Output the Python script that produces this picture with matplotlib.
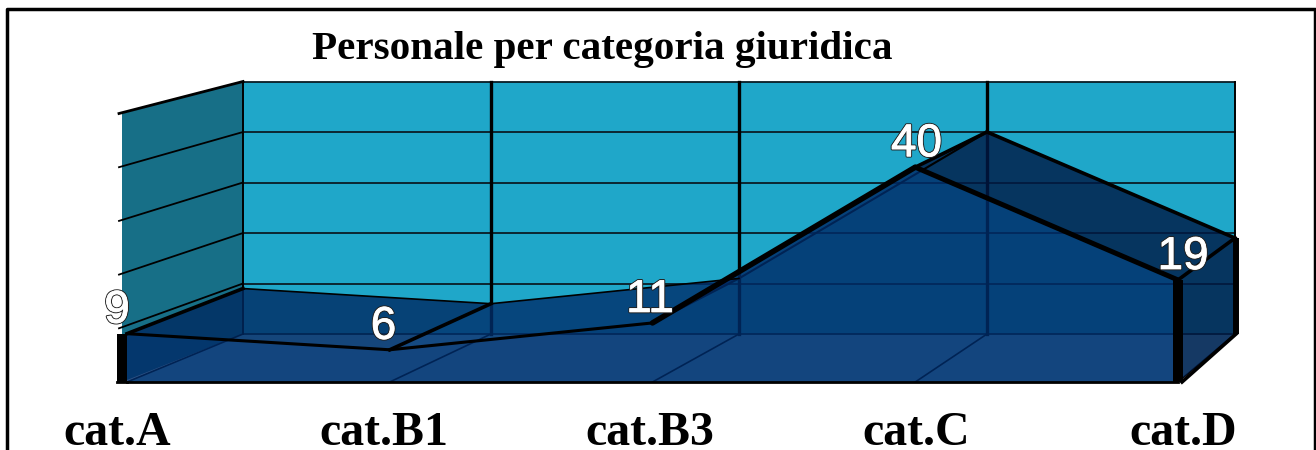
import matplotlib
matplotlib.use('Agg')
import matplotlib.pyplot as plt
import matplotlib.patheffects as pe

categories = ['cat.A', 'cat.B1', 'cat.B3', 'cat.C', 'cat.D']
values = [9, 6, 11, 40, 19]
grid_values = [0, 10, 20, 30, 40, 50]
title = 'Personale per categoria giuridica'


# simple perspective box, everything in pixels of the 1316x450 picture
def front(i, v):
    return 127 + 262.75 * i, 382 - 5.37 * v


def back(i, v):
    return 243 + 248 * i, 334 - 5.05 * v


def label_x(i):
    return 117 + 266.5 * i


fig = plt.figure(figsize=(13.16, 4.5), dpi=100)
ax = fig.add_axes([0, 0, 1, 1])
ax.set_xlim(0, 1316)
ax.set_ylim(450, 0)
ax.axis('off')

n = len(categories)
top = grid_values[-1]
last = n - 1

# walls and floor
ax.fill(*zip(back(0, 0), back(last, 0), back(last, top), back(0, top)), color='#1fa7c9', lw=0, zorder=1)
ax.fill(*zip((122, 382), back(0, 0), back(0, top), (122, front(0, top)[1])), color='#176f87', lw=0, zorder=1)
ax.fill(*zip(front(0, 0), front(last, 0), back(last, 0), back(0, 0)), color='#6abbe2', lw=0, zorder=1)

for g in grid_values:
    ax.plot(*zip(back(0, g), back(last, g)), color='#0a1c24', lw=1.3, zorder=2)
    if g > 0:
        ax.plot(*zip((119, front(0, g)[1]), back(0, g)), color='black', lw=2 if g == top else 1.3, zorder=2)
for i in range(n):
    ax.plot(*zip(back(i, 0), back(i, top)), color='black', lw=2.4 if 0 < i < last else 1.4, zorder=2)
    ax.plot(*zip(front(i, 0), back(i, 0)), color='black', lw=1.2, zorder=2)

pts_back = [back(i, v) for i, v in enumerate(values)]
pts_front = [front(i, v) for i, v in enumerate(values)]

# top of the area, segment B3-C faces away and stays hidden
ribbon_colors = ['#002961', '#002e6a', None, '#001945']
for i, col in enumerate(ribbon_colors):
    if col is not None:
        ax.fill(*zip(pts_front[i], pts_front[i + 1], pts_back[i + 1], pts_back[i]), color=col, alpha=0.8, lw=0, zorder=4)
# right side
ax.fill(*zip(front(last, 0), pts_front[-1], pts_back[-1], back(last, 0)), color='#001945', alpha=0.8, lw=0, zorder=4)

# edges behind the front face
ax.plot(*zip(pts_back[2], pts_back[3]), color='black', lw=1.5, zorder=4)
ax.plot(*zip(pts_front[2], pts_back[2]), color='black', lw=1.5, zorder=4)

# front face
ax.fill(*zip(front(0, 0), *pts_front, front(last, 0)), color='#002b68', alpha=0.82, lw=0, zorder=5)

# edges of the body
front_widths = [2.2, 2.2, 4, 3.6]
for i, w in enumerate(front_widths):
    ax.plot(*zip(pts_front[i], pts_front[i + 1]), color='black', lw=w, zorder=6, solid_capstyle='round')
ax.plot(*zip(pts_back[0], pts_back[1]), color='black', lw=1.2, zorder=6)
ax.plot(*zip(pts_back[1], pts_back[2]), color='black', lw=1.2, zorder=6)
ax.plot(*zip(pts_back[3], pts_back[4]), color='black', lw=2.6, zorder=6)
for i in (0, 1, 3, 4):
    ax.plot(*zip(pts_front[i], pts_back[i]), color='black', lw=2.6, zorder=6)
ax.plot(*zip(front(0, 0), front(last, 0)), color='black', lw=2, zorder=6)
ax.plot(*zip((front(0, 0)[0] - 10, 382), front(0, 0)), color='black', lw=2, zorder=6)
ax.plot(*zip((front(last, 0)[0] + 4, 382), (back(last, 0)[0] + 1, 334)), color='black', lw=2.6, zorder=6)
# thick verticals
ax.plot([front(0, 0)[0] - 5] * 2, [front(0, 0)[1], pts_front[0][1]], color='black', lw=7.2, zorder=6, solid_capstyle='butt')
ax.plot([front(last, 0)[0]] * 2, [front(last, 0)[1], pts_front[-1][1]], color='black', lw=7.2, zorder=6, solid_capstyle='butt')
ax.plot([back(last, 0)[0] + 1] * 2, [back(last, 0)[1], pts_back[-1][1]], color='black', lw=4.3, zorder=6, solid_capstyle='butt')

# data labels
for i, v in enumerate(values):
    ax.text(label_x(i), pts_front[i][1] - 23, str(v), ha='center', va='center', fontsize=33,
            family='Liberation Sans', color='white', zorder=8,
            path_effects=[pe.Stroke(linewidth=2.0, foreground='#222222'),
                          pe.Stroke(linewidth=0.6, foreground='white'), pe.Normal()])

# category labels
for i, c in enumerate(categories):
    ax.text(label_x(i), 445, c, ha='center', va='baseline', fontsize=34.5,
            family='Liberation Serif', weight='bold', color='black', zorder=8)

ax.text(602, 50, title, ha='center', va='center', fontsize=29.6, family='Liberation Serif',
        weight='bold', color='black', zorder=8)

# outer frame, the bottom is cut off in the picture
ax.plot([6.5, 6.5, 1314.5, 1314.5], [450, 8.5, 8.5, 450], color='black', lw=2.5, zorder=9, solid_joinstyle='round')

fig.savefig('out.png', dpi=100)
